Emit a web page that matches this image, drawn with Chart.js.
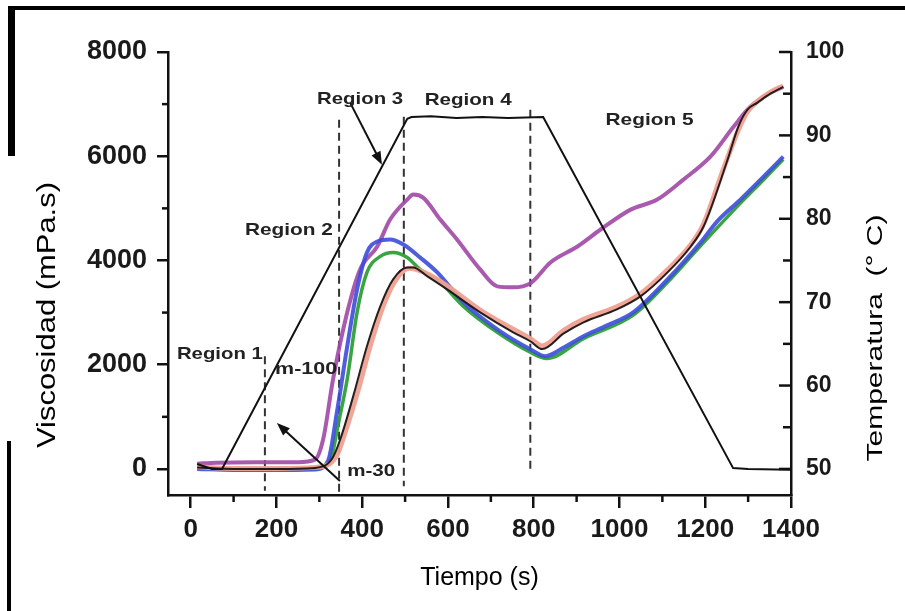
<!DOCTYPE html>
<html>
<head>
<meta charset="utf-8">
<script src="https://cdn.jsdelivr.net/npm/chart.js@4.4.0/dist/chart.umd.min.js"></script>
<style>
  html, body { margin: 0; padding: 0; background: #fff; }
  canvas { display: block; }
</style>
</head>
<body>
<canvas id="grafico" width="905" height="611"></canvas>
<script>
// viscosidad (mPa.s) frente a tiempo (s) de cada muestra
var tMorado = [15, 60, 150, 250, 290, 309, 332, 365, 395, 435, 465, 505, 519, 542, 582, 621, 675, 715, 752, 792, 839, 902, 956, 1026, 1088, 1149, 1212, 1266, 1305, 1352, 1382];
var vMorado = [100, 120, 130, 130, 180, 574, 1723, 3005, 3828, 4268, 4785, 5168, 5264, 5206, 4785, 4402, 3828, 3503, 3484, 3560, 3962, 4268, 4594, 4976, 5168, 5551, 5991, 6565, 6948, 7216, 7331];

var tAzul = [15, 100, 200, 290, 320, 341, 365, 388, 411, 435, 465, 496, 535, 575, 636, 715, 792, 827, 870, 916, 970, 1032, 1112, 1189, 1228, 1282, 1336, 1382];
var vAzul = [0, -20, -20, -10, 150, 1091, 2354, 3445, 4153, 4364, 4402, 4307, 4058, 3771, 3196, 2680, 2297, 2163, 2330, 2546, 2750, 3005, 3637, 4345, 4750, 5168, 5608, 5991];

var tVerde = [15, 100, 200, 290, 325, 345, 365, 388, 411, 442, 472, 505, 535, 582, 636, 715, 792, 830, 916, 1032, 1112, 1189, 1282, 1336, 1382];
var vVerde = [20, 0, 0, 10, 150, 900, 1723, 3005, 3771, 4077, 4153, 4058, 3828, 3579, 3120, 2622, 2239, 2120, 2500, 2950, 3580, 4280, 5100, 5550, 5940];

var tNegro = [15, 100, 200, 290, 330, 349, 379, 411, 442, 472, 505, 519, 552, 598, 675, 752, 792, 820, 870, 916, 994, 1049, 1112, 1166, 1196, 1252, 1277, 1298, 1321, 1352, 1382];
var vNegro = [30, 0, 0, 20, 200, 574, 1397, 2354, 3120, 3637, 3866, 3866, 3694, 3445, 3005, 2622, 2450, 2300, 2600, 2814, 3062, 3311, 3771, 4268, 4651, 5933, 6565, 6890, 7024, 7200, 7331];

var tRosa = [15, 100, 200, 290, 340, 360, 390, 420, 450, 480, 510, 550, 600, 675, 752, 792, 820, 870, 916, 994, 1049, 1112, 1166, 1196, 1240, 1277, 1298, 1321, 1352, 1382];
var vRosa = [40, 10, 10, 30, 250, 700, 1500, 2400, 3150, 3650, 3850, 3750, 3500, 3050, 2680, 2500, 2360, 2660, 2870, 3110, 3360, 3820, 4300, 4700, 5700, 6500, 6850, 7050, 7230, 7350];

// perfil de temperatura (°C)
var tTemp = [15, 50, 73, 505, 515, 560, 620, 680, 740, 822, 1265, 1300, 1400];
var vTemp = [50.6, 50.0, 50.0, 92.0, 92.2, 92.3, 92.1, 92.2, 92.1, 92.2, 50.1, 50.0, 49.9];

// limites de las regiones (s) y extremo de cada linea discontinua (mPa.s)
var limRegion = [173, 346, 497, 792];
var limArriba = [2160, 6700, 6760, 6890];
var limAbajo = [-420, -480, -330, -40];

// marcas de los ejes
var xTicks = [0, 200, 400, 600, 800, 1000, 1200, 1400];
var xMenores = [100, 300, 500, 700, 900, 1100, 1300];
var yTicks = [0, 2000, 4000, 6000, 8000];
var yMenores = [1000, 3000, 5000, 7000];
var tempTicks = [50, 60, 70, 80, 90, 100];
var tempMenores = [55, 65, 75, 85, 95];

var FUENTE = "'Liberation Sans', Arial, sans-serif";

function puntos(t, v) {
  return t.map(function(x, i) { return { x: x, y: v[i] }; });
}

function serie(t, v, color, ancho, orden) {
  return {
    data: puntos(t, v),
    borderColor: color,
    borderWidth: ancho,
    pointRadius: 0,
    cubicInterpolationMode: 'monotone',
    yAxisID: 'y',
    order: orden
  };
}

var datasets = [
  serie(tMorado, vMorado, 'rgba(160,72,165,0.9)', 4, 5),
  serie(tVerde, vVerde, 'rgba(45,160,55,0.95)', 3.5, 4),
  serie(tAzul, vAzul, 'rgba(60,75,220,0.9)', 4, 3),
  serie(tRosa, vRosa, 'rgba(240,160,145,0.95)', 5, 2),
  serie(tNegro, vNegro, 'rgba(25,20,20,0.95)', 2, 1),
  {
    data: puntos(tTemp, vTemp),
    borderColor: '#111',
    borderWidth: 2,
    pointRadius: 0,
    tension: 0,
    yAxisID: 'y2',
    order: 0
  }
];

limRegion.forEach(function(x, i) {
  datasets.push({
    data: [{ x: x, y: limArriba[i] }, { x: x, y: limAbajo[i] }],
    borderColor: '#333',
    borderWidth: 2,
    borderDash: [8, 5],
    pointRadius: 0,
    yAxisID: 'y',
    order: 6
  });
});

// textos y flechas en coordenadas de los datos
var etiquetas = [
  { txt: 'Region 1', x: 68, y: 2105, w: 86 },
  { txt: 'm-100', x: 269, y: 1818, w: 62 },
  { txt: 'm-30', x: 421, y: -134, w: 48 },
  { txt: 'Region 2', x: 229, y: 4498, w: 88 },
  { txt: 'Region 3', x: 395, y: 7005, w: 86 },
  { txt: 'Region 4', x: 647, y: 6986, w: 87 },
  { txt: 'Region 5', x: 1070, y: 6603, w: 88 }
];
var flechas = [
  { x0: 372, y0: 7024, x1: 446, y1: 5838 },
  { x0: 348, y0: -230, x1: 201, y1: 880 }
];

function textoAncho(ctx, txt, cx, base, ancho) {
  var w = ctx.measureText(txt).width;
  ctx.save();
  ctx.translate(cx, base);
  ctx.scale(ancho / w, 1);
  ctx.fillText(txt, 0, 0);
  ctx.restore();
}

function textoVertical(ctx, txt, cx, cy, largo, font) {
  ctx.save();
  ctx.font = font;
  var w = ctx.measureText(txt).width;
  ctx.translate(cx, cy);
  ctx.rotate(-Math.PI / 2);
  ctx.scale(largo / w, 1);
  ctx.textAlign = 'center';
  ctx.textBaseline = 'middle';
  ctx.fillText(txt, 0, 0);
  ctx.restore();
}

function linea(ctx, x0, y0, x1, y1) {
  ctx.beginPath();
  ctx.moveTo(x0, y0);
  ctx.lineTo(x1, y1);
  ctx.stroke();
}

var marco = {
  id: 'marco',
  beforeDraw: function(chart) {
    var ctx = chart.ctx;
    ctx.save();
    ctx.fillStyle = '#fff';
    ctx.fillRect(0, 0, chart.width, chart.height);
    ctx.fillStyle = '#000';
    ctx.fillRect(8, 6, 897, 4);
    ctx.fillRect(8, 6, 7, 150);
    ctx.fillRect(7, 441, 4, 170);
    ctx.restore();
  }
};

var anotaciones = {
  id: 'anotaciones',
  afterDraw: function(chart) {
    var ctx = chart.ctx, sx = chart.scales.x, sy = chart.scales.y, st = chart.scales.y2;
    ctx.save();
    ctx.strokeStyle = '#111';
    ctx.lineWidth = 2.5;
    xMenores.forEach(function(v) {
      var p = sx.getPixelForValue(v);
      linea(ctx, p, sx.top, p, sx.top + 7);
    });
    yMenores.forEach(function(v) {
      var p = sy.getPixelForValue(v);
      linea(ctx, sy.right - 6, p, sy.right, p);
    });
    tempTicks.forEach(function(v) {
      var p = st.getPixelForValue(v);
      linea(ctx, st.left - 12, p, st.left, p);
    });
    tempMenores.forEach(function(v) {
      var p = st.getPixelForValue(v);
      linea(ctx, st.left - 8, p, st.left, p);
    });

    // flechas
    ctx.lineWidth = 2;
    ctx.fillStyle = '#111';
    flechas.forEach(function(f) {
      var x0 = sx.getPixelForValue(f.x0), y0 = sy.getPixelForValue(f.y0);
      var x1 = sx.getPixelForValue(f.x1), y1 = sy.getPixelForValue(f.y1);
      var a = Math.atan2(y1 - y0, x1 - x0);
      linea(ctx, x0, y0, x1 - 8 * Math.cos(a), y1 - 8 * Math.sin(a));
      ctx.beginPath();
      ctx.moveTo(x1, y1);
      ctx.lineTo(x1 - 13 * Math.cos(a) + 5 * Math.sin(a), y1 - 13 * Math.sin(a) - 5 * Math.cos(a));
      ctx.lineTo(x1 - 13 * Math.cos(a) - 5 * Math.sin(a), y1 - 13 * Math.sin(a) + 5 * Math.cos(a));
      ctx.closePath();
      ctx.fill();
    });

    // etiquetas de regiones y muestras
    ctx.fillStyle = '#222';
    ctx.font = 'bold 17px ' + FUENTE;
    ctx.textAlign = 'center';
    ctx.textBaseline = 'alphabetic';
    etiquetas.forEach(function(e) {
      textoAncho(ctx, e.txt, sx.getPixelForValue(e.x), sy.getPixelForValue(e.y), e.w);
    });

    // titulos verticales
    ctx.fillStyle = '#000';
    textoVertical(ctx, 'Viscosidad (mPa.s)', 48, 315, 266, '25px ' + FUENTE);
    textoVertical(ctx, 'Temperatura  (° C)', 876, 338, 247, '22px ' + FUENTE);
    ctx.restore();
  }
};

function fijarTicks(valores) {
  return function(scale) {
    scale.ticks = valores.map(function(v) { return { value: v }; });
  };
}

new Chart(document.getElementById('grafico'), {
  type: 'line',
  data: { datasets: datasets },
  plugins: [marco, anotaciones],
  options: {
    responsive: false,
    animation: false,
    devicePixelRatio: 1,
    layout: { padding: { top: 52, left: 0, right: 0, bottom: 0 } },
    plugins: { legend: { display: false }, tooltip: { enabled: false } },
    scales: {
      x: {
        type: 'linear',
        position: 'bottom',
        min: -53,
        max: 1400,
        afterBuildTicks: fijarTicks(xTicks),
        afterFit: function(s) { s.height = 116; },
        grid: { drawOnChartArea: false, drawTicks: true, tickLength: 13, color: '#111', lineWidth: 2.5 },
        border: { display: true, color: '#111', width: 2.5 },
        ticks: {
          color: '#1a1a1a',
          padding: 6,
          maxRotation: 0,
          font: { family: FUENTE, size: 26, weight: 'bold' },
          callback: function(v) { return String(v); }
        },
        title: {
          display: true,
          text: 'Tiempo (s)',
          color: '#000',
          font: { family: FUENTE, size: 25 },
          padding: { top: 0, bottom: 18 }
        }
      },
      y: {
        type: 'linear',
        position: 'left',
        min: -500,
        max: 8000,
        afterBuildTicks: fijarTicks(yTicks),
        afterFit: function(s) { s.width = 168; },
        grid: { drawOnChartArea: false, drawTicks: true, tickLength: 11, color: '#111', lineWidth: 2.5 },
        border: { display: true, color: '#111', width: 2.5 },
        ticks: {
          color: '#1a1a1a',
          padding: 10,
          font: { family: FUENTE, size: 27, weight: 'bold' },
          callback: function(v) { return String(v); }
        }
      },
      y2: {
        type: 'linear',
        position: 'right',
        min: 46.875,
        max: 100,
        afterBuildTicks: fijarTicks(tempTicks),
        afterFit: function(s) { s.width = 114; },
        grid: { display: false, drawTicks: false },
        border: { display: true, color: '#111', width: 2.5 },
        ticks: {
          color: '#1a1a1a',
          padding: 15,
          font: { family: FUENTE, size: 23, weight: 'bold' },
          callback: function(v) { return String(v); }
        }
      }
    }
  }
});
</script>
</body>
</html>
